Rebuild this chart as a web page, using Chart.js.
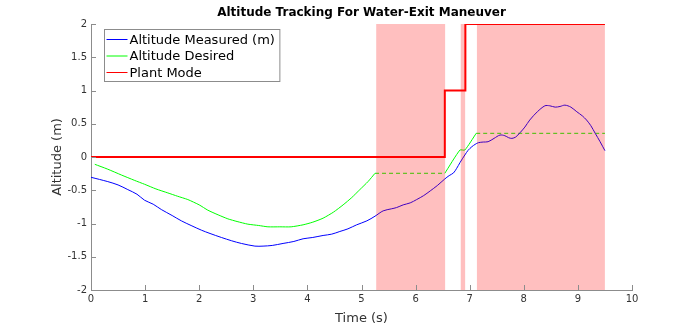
<!DOCTYPE html>
<html>
<head>
<meta charset="utf-8">
<script src="https://cdn.jsdelivr.net/npm/chart.js@4.4.1/dist/chart.umd.min.js"></script>
<style>
  html, body { margin: 0; padding: 0; background: #fff; }
  #chart { display: block; }
</style>
</head>
<body>
<canvas id="chart" width="698" height="326"></canvas>
<script>
// measured altitude (blue)
const measuredTime = [0, 0.31, 0.5, 0.68, 0.85, 0.99, 1.15, 1.30, 1.5, 1.67, 1.85, 2.04, 2.2, 2.41, 2.6, 2.78, 3.03, 3.18, 3.35, 3.55, 3.75, 3.92, 4.1, 4.29, 4.45, 4.60, 4.75, 4.91, 5.1, 5.25, 5.40, 5.55, 5.65, 5.77, 5.9, 6.02, 6.15, 6.27, 6.4, 6.54, 6.62, 6.70, 6.76, 6.82, 6.91, 6.97, 7.04, 7.10, 7.16, 7.25, 7.34, 7.45, 7.56, 7.65, 7.72, 7.78, 7.85, 7.93, 8.02, 8.11, 8.25, 8.39, 8.48, 8.58, 8.67, 8.76, 8.87, 8.98, 9.08, 9.16, 9.24, 9.32, 9.41, 9.50];
const measuredAlt = [-0.305, -0.37, -0.42, -0.49, -0.56, -0.65, -0.71, -0.79, -0.88, -0.96, -1.03, -1.10, -1.15, -1.21, -1.26, -1.30, -1.34, -1.34, -1.33, -1.30, -1.27, -1.23, -1.21, -1.18, -1.16, -1.12, -1.08, -1.02, -0.96, -0.89, -0.81, -0.78, -0.76, -0.72, -0.69, -0.64, -0.58, -0.51, -0.43, -0.33, -0.28, -0.24, -0.17, -0.085, 0.03, 0.1, 0.155, 0.19, 0.215, 0.225, 0.23, 0.28, 0.33, 0.32, 0.29, 0.28, 0.3, 0.365, 0.45, 0.556, 0.68, 0.77, 0.77, 0.75, 0.76, 0.78, 0.75, 0.68, 0.62, 0.556, 0.47, 0.356, 0.23, 0.095];

// desired altitude (green, solid parts; null breaks the line)
const desiredTime = [0.07, 0.3, 0.56, 0.8, 0.99, 1.2, 1.42, 1.6, 1.79, 2.0, 2.16, 2.35, 2.53, 2.7, 2.9, 3.1, 3.27, 3.49, 3.7, 3.92, 4.1, 4.29, 4.48, 4.66, 4.82, 4.97, 5.12, 5.25, 5.9, 6.54, 6.82, 6.91, 7.12];
const desiredAlt = [-0.11, -0.18, -0.27, -0.35, -0.41, -0.48, -0.54, -0.59, -0.64, -0.72, -0.80, -0.87, -0.93, -0.97, -1.01, -1.03, -1.05, -1.05, -1.05, -1.02, -0.98, -0.92, -0.83, -0.72, -0.61, -0.49, -0.37, -0.245, null, -0.245, 0.105, 0.105, 0.356];

// desired altitude held (green dashed)
const holdStart = [5.25, 7.12];
const holdEnd = [6.54, 9.5];
const holdAlt = [-0.245, 0.356];

// plant mode (red)
const modeTime = [0, 6.54, 6.54, 6.92, 6.92, 9.5];
const modeVal = [0, 0, 1, 1, 2, 2];

// shaded intervals
const shadeStart = [5.27, 6.83, 7.13];
const shadeEnd = [6.55, 6.92, 9.50];

const xTicks = [0, 1, 2, 3, 4, 5, 6, 7, 8, 9, 10];
const yTicks = [-2, -1.5, -1, -0.5, 0, 0.5, 1, 1.5, 2];

const titleText = 'Altitude Tracking For Water-Exit Maneuver';

const axisColor = '#8c8c8c';
const textColor = '#333333';
const fontFamily = "'DejaVu Sans', sans-serif";

const toPoints = (xs, ys) => xs.map((x, i) => ({ x: x, y: ys[i] }));

const holdPoints = [];
holdStart.forEach((s, i) => {
    if (i > 0) holdPoints.push({ x: (holdEnd[i - 1] + s) / 2, y: null });
    holdPoints.push({ x: s, y: holdAlt[i] }, { x: holdEnd[i], y: holdAlt[i] });
});

const shadeSets = shadeStart.map((s, i) => ({
    label: 'shade' + i,
    data: [{ x: s, y: 2 }, { x: shadeEnd[i], y: 2 }],
    borderWidth: 0,
    borderColor: 'rgba(0,0,0,0)',
    backgroundColor: 'rgba(255,0,0,0.25)',
    fill: { value: -2 },
    pointRadius: 0,
    order: 0,
    inLegend: false
}));

// title centred over the plot area, like matlab does
const plotTitle = {
    id: 'plotTitle',
    afterDraw(chart) {
        const ctx = chart.ctx;
        const area = chart.chartArea;
        ctx.save();
        ctx.font = 'bold 12px ' + fontFamily;
        ctx.fillStyle = '#000';
        ctx.textAlign = 'center';
        ctx.textBaseline = 'middle';
        ctx.fillText(titleText, (area.left + area.right) / 2, 13);
        ctx.restore();
    }
};

const legendBox = {
    id: 'legendBox',
    afterDraw(chart) {
        const ctx = chart.ctx;
        const area = chart.chartArea;
        const items = chart.data.datasets.filter(d => d.inLegend);
        ctx.save();
        ctx.font = '13px ' + fontFamily;
        const w = Math.max(...items.map(d => ctx.measureText(d.label).width)) + 30;
        const x0 = area.left + 13.5, y0 = area.top + 5.5;
        const h = 52;
        ctx.fillStyle = '#fff';
        ctx.fillRect(x0, y0, w, h);
        ctx.strokeStyle = '#8c8c8c';
        ctx.lineWidth = 1;
        ctx.strokeRect(x0, y0, w, h);
        items.forEach((d, i) => {
            const cy = y0 + 10 + i * 16.5;
            ctx.strokeStyle = d.borderColor;
            ctx.lineWidth = 1;
            ctx.beginPath();
            ctx.moveTo(x0 + 2, cy);
            ctx.lineTo(x0 + 23, cy);
            ctx.stroke();
            ctx.fillStyle = '#000';
            ctx.textBaseline = 'middle';
            ctx.fillText(d.label, x0 + 25, cy + 1);
        });
        ctx.restore();
    }
};

const innerTicks = {
    id: 'innerTicks',
    afterDatasetsDraw(chart) {
        const ctx = chart.ctx;
        const { x, y } = chart.scales;
        ctx.save();
        ctx.strokeStyle = axisColor;
        ctx.lineWidth = 1;
        ctx.beginPath();
        xTicks.forEach(v => {
            const px = Math.round(x.getPixelForValue(v)) + 0.5;
            ctx.moveTo(px, y.bottom);
            ctx.lineTo(px, y.bottom - 5);
        });
        yTicks.forEach(v => {
            const py = Math.round(y.getPixelForValue(v)) + 0.5;
            ctx.moveTo(x.left, py);
            ctx.lineTo(x.left + 5, py);
        });
        ctx.stroke();
        ctx.restore();
    }
};

new Chart(document.getElementById('chart'), {
    type: 'line',
    data: {
        datasets: [
            ...shadeSets,
            {
                label: 'Altitude Measured (m)',
                data: toPoints(measuredTime, measuredAlt),
                borderColor: '#0000ff', borderWidth: 1, pointRadius: 0, tension: 0.3,
                order: 2, inLegend: true
            },
            {
                label: 'Altitude Desired',
                data: toPoints(desiredTime, desiredAlt),
                borderColor: '#00ff00', borderWidth: 1, pointRadius: 0, tension: 0.2,
                order: 3, inLegend: true
            },
            {
                label: 'hold',
                data: holdPoints,
                borderColor: '#00ff00', borderWidth: 1, borderDash: [4, 3], pointRadius: 0,
                order: 3, inLegend: false
            },
            {
                label: 'Plant Mode',
                data: toPoints(modeTime, modeVal),
                borderColor: '#ff0000', borderWidth: 2, pointRadius: 0,
                order: 1, inLegend: true
            }
        ]
    },
    options: {
        responsive: false,
        animation: false,
        spanGaps: false,
        layout: { padding: { left: 50, right: 66, top: 24, bottom: 0 } },
        plugins: {
            legend: { display: false },
            tooltip: { enabled: false },
            title: { display: false }
        },
        scales: {
            x: {
                type: 'linear', min: 0, max: 10,
                afterBuildTicks: s => { s.ticks = xTicks.map(v => ({ value: v })); },
                afterFit: s => { s.height = 36; },
                grid: { display: false, drawTicks: false },
                border: { display: true, color: axisColor, width: 1 },
                ticks: { color: textColor, padding: 3, maxRotation: 0, font: { family: fontFamily, size: 10 }, callback: v => String(v) },
                title: { display: true, text: 'Time (s)', color: textColor, padding: 0, font: { family: fontFamily, size: 13 } }
            },
            y: {
                type: 'linear', min: -2, max: 2,
                afterBuildTicks: s => { s.ticks = yTicks.map(v => ({ value: v })); },
                afterFit: s => { s.width = 41; },
                grid: { display: false, drawTicks: false },
                border: { display: true, color: axisColor, width: 1 },
                ticks: { color: textColor, padding: 4, font: { family: fontFamily, size: 10 }, callback: v => String(v) },
                title: { display: true, text: 'Altitude (m)', color: textColor, padding: 0, font: { family: fontFamily, size: 13 } }
            }
        }
    },
    plugins: [innerTicks, legendBox, plotTitle]
});
</script>
</body>
</html>
